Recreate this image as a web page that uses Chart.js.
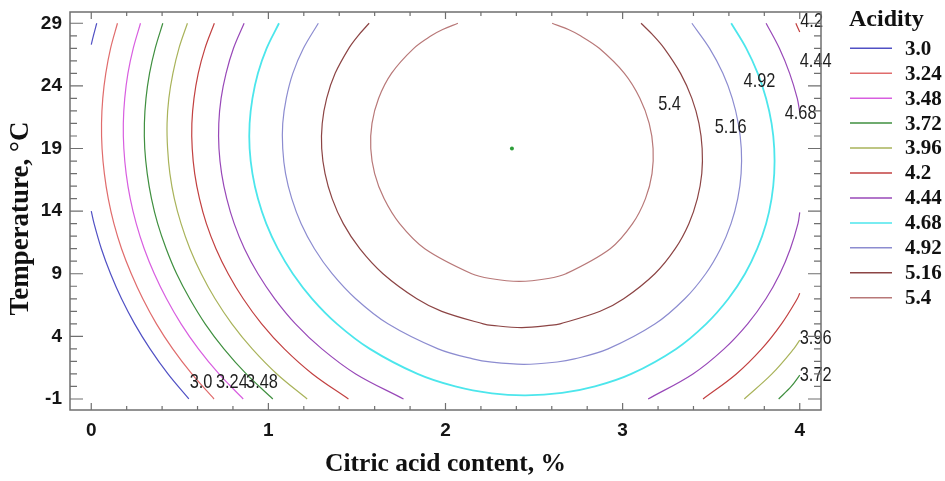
<!DOCTYPE html>
<html>
<head>
<meta charset="utf-8">
<title>Acidity contour</title>
<script src="https://cdn.jsdelivr.net/npm/chart.js@4.4.0/dist/chart.umd.min.js"></script>
<style>
  html, body { margin: 0; padding: 0; background: #fff; }
  #wrap { width: 945px; height: 481px; }
</style>
</head>
<body>
<div id="wrap"><canvas id="myChart" width="945" height="481"></canvas></div>
<script>
// contour levels (legend order)
const levels = ['3.0', '3.24', '3.48', '3.72', '3.96', '4.2', '4.44', '4.68', '4.92', '5.16', '5.4'];
const xTicks = [0, 1, 2, 3, 4];
const yTicks = [-1, 4, 9, 14, 19, 24, 29];

// points: [citric acid %, temperature °C], null = break in the line
const acid300 = [[0.031, 29], [0.012, 28], [0, 27.3], null,
  [0, 14], [0.016, 13], [0.057, 11], [0.109, 9], [0.171, 7], [0.245, 5], [0.332, 3], [0.433, 1], [0.551, -1]];
const acid324 = [[0.148, 29], [0.109, 27], [0.082, 25], [0.065, 23], [0.058, 21], [0.061, 19], [0.074, 17],
  [0.096, 15], [0.128, 13], [0.171, 11], [0.226, 9], [0.291, 7], [0.368, 5], [0.46, 3], [0.568, 1], [0.693, -1]];
const acid348 = [[0.278, 29], [0.237, 27], [0.207, 25], [0.189, 23], [0.181, 21], [0.184, 19], [0.197, 17],
  [0.22, 15], [0.254, 13], [0.299, 11], [0.356, 9], [0.425, 7], [0.507, 5], [0.605, 3], [0.721, 1], [0.858, -1]];
const acid372 = [[0.404, 29], [0.361, 27], [0.329, 25], [0.309, 23], [0.3, 21], [0.302, 19], [0.316, 17],
  [0.34, 15], [0.375, 13], [0.423, 11], [0.482, 9], [0.556, 7], [0.643, 5], [0.749, 3], [0.875, 1], [1.025, -1], null,
  [3.881, -1], [3.952, 0], [4.0, 0.9]];
const acid396 = [[0.543, 29], [0.495, 27], [0.461, 25], [0.438, 23], [0.428, 21], [0.431, 19], [0.444, 17],
  [0.469, 15], [0.507, 13], [0.557, 11], [0.621, 9], [0.699, 7], [0.794, 5], [0.909, 3], [1.048, 1], [1.219, -1], null,
  [3.687, -1], [3.843, 1], [3.966, 3], [4.0, 3.7]];
const acid420 = [[0.695, 29], [0.642, 27], [0.604, 25], [0.58, 23], [0.568, 21], [0.57, 19], [0.584, 17],
  [0.611, 15], [0.65, 13], [0.704, 11], [0.773, 9], [0.858, 7], [0.962, 5], [1.09, 3], [1.249, 1], [1.452, -1], null,
  [3.454, -1], [3.642, 1], [3.785, 3], [3.897, 5], [3.986, 7], [4.0, 7.45], null,
  [3.978, 29], [4.0, 28.3]];
const acid444 = [[0.863, 29], [0.803, 27], [0.761, 25], [0.733, 23], [0.72, 21], [0.721, 19], [0.736, 17],
  [0.765, 15], [0.807, 13], [0.865, 11], [0.941, 9], [1.036, 7], [1.153, 5], [1.302, 3], [1.493, 1], [1.763, -1], null,
  [3.144, -1], [3.397, 1], [3.573, 3], [3.706, 5], [3.809, 7], [3.888, 9], [3.947, 11], [3.99, 13], [4.0, 13.9], null,
  [4.0, 21.9], [3.986, 23], [3.943, 25], [3.885, 27], [3.81, 29]];
const acid468 = [[1.06, 29], [0.99, 27], [0.941, 25], [0.91, 23], [0.894, 21], [0.894, 19], [0.91, 17],
  [0.941, 15], [0.988, 13], [1.053, 11], [1.138, 9], [1.247, 7], [1.387, 5], [1.573, 3], [1.842, 1], [2.055, 0],
  [2.262, -0.55], [2.452, -0.71], [2.658, -0.52], [2.844, 0], [3.049, 1], [3.302, 3], [3.472, 5], [3.597, 7],
  [3.691, 9], [3.76, 11], [3.81, 13], [3.841, 15], [3.856, 17], [3.856, 19], [3.841, 21], [3.81, 23],
  [3.763, 25], [3.698, 27], [3.613, 29]];
const acid492 = [[1.282, 29], [1.198, 27], [1.138, 25], [1.101, 23], [1.081, 21], [1.081, 19], [1.097, 17],
  [1.132, 15], [1.185, 13], [1.26, 11], [1.36, 9], [1.493, 7], [1.675, 5], [1.958, 3], [2.154, 2.2],
  [2.262, 1.94], [2.442, 1.77], [2.63, 1.955], [2.728, 2.2], [2.918, 3], [3.184, 5], [3.351, 7], [3.469, 9],
  [3.553, 11], [3.612, 13], [3.65, 15], [3.669, 17], [3.67, 19], [3.653, 21], [3.619, 23], [3.566, 25],
  [3.491, 27], [3.391, 29]];
const acid516 = [[1.569, 29], [1.506, 28], [1.454, 27], [1.377, 25], [1.329, 23], [1.304, 21], [1.301, 19],
  [1.32, 17], [1.36, 15], [1.423, 13], [1.516, 11], [1.647, 9], [1.838, 7], [1.979, 6], [2.213, 5], [2.262, 4.88],
  [2.431, 4.705], [2.601, 4.89], [2.647, 5], [2.873, 6], [3.006, 7], [3.182, 9], [3.297, 11], [3.374, 13],
  [3.422, 15], [3.447, 17], [3.449, 19], [3.431, 21], [3.391, 23], [3.327, 25], [3.235, 27], [3.175, 28],
  [3.104, 29]];
const acid540 = [[2.07, 29], [1.984, 28.5], [1.919, 28], [1.821, 27], [1.695, 25], [1.622, 23], [1.585, 21],
  [1.578, 19], [1.6, 17], [1.653, 15], [1.741, 13], [1.883, 11], [2.148, 9], [2.252, 8.62], [2.417, 8.39],
  [2.579, 8.62], [2.68, 9], [2.93, 11], [3.056, 13], [3.129, 15], [3.166, 17], [3.172, 19], [3.15, 21],
  [3.098, 23], [3.01, 25], [2.868, 27], [2.762, 28], [2.694, 28.5], [2.602, 29]];
const contours = [acid300, acid324, acid348, acid372, acid396, acid420, acid444, acid468, acid492, acid516, acid540];

// stationary point
const optimum = [2.375, 19];

// in-plot level labels: [text, citric acid %, temperature °C]
const labelSpots = [
  ['3.0', 0.62, 0.31], ['3.24', 0.794, 0.31], ['3.48', 0.964, 0.31],
  ['5.4', 3.265, 22.5], ['5.16', 3.61, 20.7], ['4.92', 3.773, 24.35], ['4.68', 4.005, 21.8],
  ['4.44', 4.09, 25.95], ['4.2', 4.067, 29.14], ['3.96', 4.09, 3.82], ['3.72', 4.09, 0.87]
];

const lineColors = ['#5050c4', '#e06c6c', '#d85ee0', '#3f8f3f', '#a9b35a', '#c24040',
  '#9848b8', '#4ce6ec', '#8c8cd0', '#8c4444', '#b87878'];

const serif = '"Liberation Serif", "Times New Roman", serif';
const sans = '"Liberation Sans", Arial, sans-serif';

const toPoints = (pairs) => pairs.map((p) => (p ? { x: p[0], y: p[1] } : { x: null, y: null }));

const datasets = contours.map((pairs, i) => ({
  label: levels[i],
  data: toPoints(pairs),
  showLine: true,
  borderColor: lineColors[i],
  backgroundColor: lineColors[i],
  borderWidth: i === 7 ? 1.8 : 1.2,
  pointRadius: 0,
  tension: 0.35,
  spanGaps: false,
}));
datasets.push({
  label: 'optimum',
  data: [{ x: optimum[0], y: optimum[1] }],
  pointRadius: 2,
  pointBackgroundColor: '#2e9e3a',
  pointBorderWidth: 0,
});

// frame with inward ticks on all four sides
const frame = {
  id: 'frame',
  afterDraw(chart) {
    const { ctx, chartArea: a, scales } = chart;
    ctx.save();
    ctx.strokeStyle = '#6f6f6f';
    ctx.lineWidth = 1.5;
    ctx.strokeRect(a.left, a.top, a.right - a.left, a.bottom - a.top);
    ctx.beginPath();
    for (let i = 0; i <= 20; i++) {
      const px = scales.x.getPixelForValue(i * 0.2);
      const len = i % 5 === 0 ? 7 : 4;
      ctx.moveTo(px, a.bottom);
      ctx.lineTo(px, a.bottom - len);
      ctx.moveTo(px, a.top);
      ctx.lineTo(px, a.top + len);
    }
    for (let v = -1; v <= 29; v++) {
      const py = scales.y.getPixelForValue(v);
      const len = (v + 1) % 5 === 0 ? 13 : 7;
      ctx.moveTo(a.left, py);
      ctx.lineTo(a.left + len, py);
      ctx.moveTo(a.right, py);
      ctx.lineTo(a.right - len, py);
    }
    ctx.lineWidth = 1.2;
    ctx.stroke();

    // y axis title
    ctx.translate(21, (a.top + a.bottom) / 2 + 7.5);
    ctx.rotate(-Math.PI / 2);
    ctx.fillStyle = '#111';
    ctx.font = 'bold 27px ' + serif;
    ctx.textAlign = 'center';
    ctx.textBaseline = 'middle';
    ctx.fillText('Temperature, °C', 0, 0);
    ctx.restore();
  },
};

// numbers written on the contours (condensed sans)
const contourText = {
  id: 'contourText',
  afterDatasetsDraw(chart) {
    const { ctx, scales } = chart;
    ctx.save();
    ctx.font = '21px ' + sans;
    ctx.fillStyle = '#1e1e1e';
    ctx.textAlign = 'center';
    ctx.textBaseline = 'middle';
    labelSpots.forEach(([t, vx, vy]) => {
      ctx.save();
      ctx.translate(scales.x.getPixelForValue(vx), scales.y.getPixelForValue(vy));
      ctx.scale(0.78, 1);
      ctx.fillText(t, 0, 0);
      ctx.restore();
    });
    ctx.restore();
  },
};

// legend on the right
const sideLegend = {
  id: 'sideLegend',
  afterDraw(chart) {
    const ctx = chart.ctx;
    ctx.save();
    ctx.fillStyle = '#111';
    ctx.textAlign = 'left';
    ctx.textBaseline = 'middle';
    ctx.font = 'bold 24px ' + serif;
    ctx.fillText('Acidity', 849, 20);
    ctx.font = 'bold 21px ' + serif;
    chart.data.datasets.slice(0, levels.length).forEach((ds, i) => {
      const y = 48.3 + i * 24.94;
      ctx.strokeStyle = ds.borderColor;
      ctx.lineWidth = 1.5;
      ctx.beginPath();
      ctx.moveTo(850, y);
      ctx.lineTo(892, y);
      ctx.stroke();
      ctx.fillText(ds.label, 905, y + 1);
    });
    ctx.restore();
  },
};

const myChart = new Chart(document.querySelector('#myChart'), {
  type: 'scatter',
  data: { datasets: datasets },
  options: {
    responsive: false,
    animation: false,
    events: [],
    layout: { padding: { top: 12, right: 124, left: 0, bottom: 0 } },
    plugins: { legend: { display: false }, tooltip: { enabled: false } },
    scales: {
      x: {
        type: 'linear',
        min: -0.12,
        max: 4.12,
        afterBuildTicks: (s) => { s.ticks = xTicks.map((v) => ({ value: v })); },
        afterFit: (s) => { s.height = 71; s.paddingLeft = 0; s.paddingRight = 0; },
        grid: { display: false, drawTicks: false },
        border: { display: false },
        ticks: {
          padding: 9,
          color: '#151515',
          callback: (v) => String(v),
          font: { family: sans, size: 19, weight: 'bold' },
        },
        title: {
          display: true,
          text: 'Citric acid content, %',
          color: '#111',
          font: { family: serif, size: 25.5, weight: 'bold' },
          padding: { top: 0, bottom: 1 },
        },
      },
      y: {
        type: 'linear',
        min: -1.88,
        max: 29.9,
        afterBuildTicks: (s) => { s.ticks = yTicks.map((v) => ({ value: v })); },
        afterFit: (s) => { s.width = 70; s.paddingTop = 0; s.paddingBottom = 0; },
        grid: { display: false, drawTicks: false },
        border: { display: false },
        ticks: {
          padding: 8,
          color: '#151515',
          callback: (v) => String(v),
          font: { family: sans, size: 19, weight: 'bold' },
        },
        title: { display: false },
      },
    },
  },
  plugins: [frame, contourText, sideLegend],
});
</script>
</body>
</html>
